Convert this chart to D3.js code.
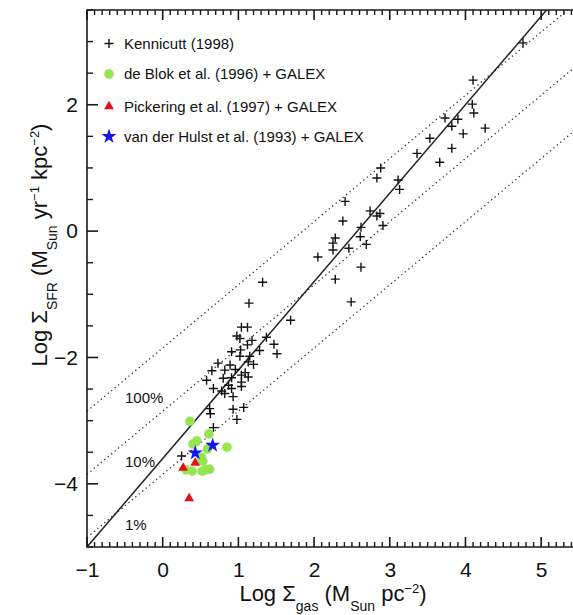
<!DOCTYPE html>
<html><head><meta charset="utf-8">
<script src="https://cdn.jsdelivr.net/npm/d3@7"></script>
<style>
body{margin:0;background:#fff}
text{font-family:"Liberation Sans",Arial,Helvetica,sans-serif;fill:#111}
</style>
</head><body>
<svg id="chart" width="573" height="615"></svg>
<script>
// ---- data ----
const kennX = [4.76,4.10,4.09,4.11,3.73,3.90,3.82,4.26,3.97,3.53,3.82,3.36,3.66,2.88,2.83,3.11,3.13,2.41,2.74,2.87,2.38,2.83,2.91,2.62,2.28,2.61,2.25,2.69,2.25,2.46,2.05,2.62,2.28,2.49,1.32,1.14,1.69,
  1.04,1.12,0.98,1.02,1.18,1.12,1.37,1.47,1.51,0.91,1.03,1.28,1.02,1.15,0.73,0.89,1.13,1.20,0.65,0.82,0.96,1.09,1.04,0.58,0.80,0.91,1.04,1.13,0.67,0.87,0.78,0.91,1.04,0.82,0.93,0.62,0.93,1.07,0.63,0.98,0.67,0.25];
const kennY = [2.98,2.39,2.01,1.87,1.79,1.77,1.66,1.63,1.54,1.47,1.31,1.23,1.09,1.00,0.84,0.81,0.66,0.47,0.32,0.28,0.16,0.24,0.09,0.06,-0.11,-0.09,-0.19,-0.21,-0.30,-0.27,-0.41,-0.57,-0.76,-1.12,-0.81,-1.14,-1.41,
  -1.52,-1.52,-1.66,-1.70,-1.73,-1.80,-1.68,-1.79,-1.94,-1.91,-1.88,-1.89,-1.98,-1.98,-2.09,-2.12,-2.07,-2.11,-2.21,-2.20,-2.19,-2.24,-2.28,-2.36,-2.33,-2.32,-2.39,-2.31,-2.49,-2.44,-2.53,-2.49,-2.46,-2.57,-2.62,-2.81,-2.82,-2.79,-2.89,-2.98,-3.11,-3.56];
const deblokX = [0.36,0.61,0.45,0.40,0.85,0.59,0.51,0.53,0.31,0.39,0.52,0.57,0.62];
const deblokY = [-3.01,-3.21,-3.32,-3.37,-3.42,-3.45,-3.58,-3.64,-3.78,-3.80,-3.80,-3.78,-3.77];
const pickX = [0.27,0.43,0.35];
const pickY = [-3.75,-3.67,-4.23];
const hulstX = [0.43,0.66];
const hulstY = [-3.51,-3.39];
const legendLabels = ["Kennicutt (1998)","de Blok et al. (1996) + GALEX","Pickering et al. (1997) + GALEX","van der Hulst et al. (1993) + GALEX"];
const effLabels = ["100%","10%","1%"];
const effOffsets = [-1.85,-2.85,-3.85];
const ksSlope = 1.4, ksIntercept = -3.6;
const xTickLabels = [-1,0,1,2,3,4,5];
const yTickLabels = [-4,-2,0,2];

// ---- layout ----
const svg = d3.select("#chart");
const x = d3.scaleLinear().domain([-1,5.5]).range([87,579]);
const y = d3.scaleLinear().domain([-5,3.5]).range([547,10]);

svg.append("defs").append("clipPath").attr("id","plotclip")
  .append("rect").attr("x",87).attr("y",10).attr("width",492).attr("height",537);

const plot = svg.append("g").attr("clip-path","url(#plotclip)");

// efficiency dotted lines
effOffsets.forEach(c=>{
  plot.append("line")
    .attr("x1",x(-1)).attr("y1",y(-1+c))
    .attr("x2",x(5.5)).attr("y2",y(5.5+c))
    .attr("stroke","#333").attr("stroke-width",1.3)
    .attr("stroke-dasharray","1.3,3.2");
});
// Kennicutt law
plot.append("line")
  .attr("x1",x(-1)).attr("y1",y(ksSlope*-1+ksIntercept))
  .attr("x2",x(5.5)).attr("y2",y(ksSlope*5.5+ksIntercept))
  .attr("stroke","#222").attr("stroke-width",1.5);

const crossPath = "M-4.5,0H4.5M0,-4.5V4.5";
const kenn = d3.range(kennX.length).map(i=>({x:kennX[i],y:kennY[i]}));
plot.selectAll(".kc").data(kenn).join("path")
  .attr("d",crossPath).attr("transform",d=>`translate(${x(d.x)},${y(d.y)})`)
  .attr("stroke","#111").attr("stroke-width",1.4).attr("fill","none");

const green = "#95E550", red = "#E3101A", blue = "#1414EE";
const db = d3.range(deblokX.length).map(i=>({x:deblokX[i],y:deblokY[i]}));
plot.selectAll(".db").data(db).join("circle")
  .attr("cx",d=>x(d.x)).attr("cy",d=>y(d.y)).attr("r",4.8).attr("fill",green);
const tri = d3.symbol().type(d3.symbolTriangle).size(42);
const pk = d3.range(pickX.length).map(i=>({x:pickX[i],y:pickY[i]}));
plot.selectAll(".pk").data(pk).join("path")
  .attr("d",tri).attr("transform",d=>`translate(${x(d.x)},${y(d.y)})`).attr("fill",red);
const star = d3.symbol().type(d3.symbolStar).size(70);
const hu = d3.range(hulstX.length).map(i=>({x:hulstX[i],y:hulstY[i]}));
plot.selectAll(".hu").data(hu).join("path")
  .attr("d",star).attr("transform",d=>`translate(${x(d.x)},${y(d.y)})`).attr("fill",blue);

// efficiency labels
const effY = [403,467,530];
effLabels.forEach((t,i)=>{
  svg.append("text").attr("x",125).attr("y",effY[i]).attr("font-size",15).text(t);
});

// ---- axes: frame + inward tick marks (filled rects placed by the scales) ----
const axColor = "#1a1a1a";
const xMinor = d3.range(-10,56).map(v=>v/10).filter(v=>Math.abs(v-Math.round(v))>1e-6);
const yMinor = d3.range(-10,8).map(v=>v/2).filter(v=>v%2!==0);
const fmt = d3.format("d");

const tg = svg.append("g").attr("fill",axColor);
xMinor.forEach(v=>{
  tg.append("rect").attr("x",x(v)-0.7).attr("y",542).attr("width",1.4).attr("height",5);
  tg.append("rect").attr("x",x(v)-0.7).attr("y",10).attr("width",1.4).attr("height",5);
});
xTickLabels.forEach(v=>{
  tg.append("rect").attr("x",x(v)-0.8).attr("y",537).attr("width",1.6).attr("height",10);
  tg.append("rect").attr("x",x(v)-0.8).attr("y",10).attr("width",1.6).attr("height",10);
});
yMinor.forEach(v=>{
  tg.append("rect").attr("x",87).attr("y",y(v)-0.7).attr("width",6).attr("height",1.4);
});
yTickLabels.forEach(v=>{
  tg.append("rect").attr("x",87).attr("y",y(v)-0.8).attr("width",11).attr("height",1.6);
});

svg.append("path").attr("d","M579,10H87V547H579").attr("fill","none")
  .attr("stroke",axColor).attr("stroke-width",1.6);

// tick labels via d3 axes
svg.append("g").attr("transform","translate(0,547)")
  .call(d3.axisBottom(x).tickValues(xTickLabels).tickSize(0).tickPadding(15).tickFormat(fmt))
  .call(g=>g.select(".domain").remove())
  .call(g=>g.selectAll("text").attr("font-size",21).attr("fill","#111").attr("font-family","Liberation Sans, Arial, sans-serif"));
svg.append("g").attr("transform","translate(87,0)")
  .call(d3.axisLeft(y).tickValues(yTickLabels).tickSize(0).tickPadding(9).tickFormat(fmt))
  .call(g=>g.select(".domain").remove())
  .call(g=>g.selectAll("text").attr("font-size",21).attr("fill","#111").attr("font-family","Liberation Sans, Arial, sans-serif"));

// ---- axis titles ----
const xt = svg.append("text").attr("x",333).attr("y",601).attr("text-anchor","middle").attr("font-size",22);
xt.append("tspan").text("Log Σ");
xt.append("tspan").attr("dy",10).attr("font-size",14).text("gas");
xt.append("tspan").attr("dy",-10).text(" (M");
xt.append("tspan").attr("dy",10).attr("font-size",14).text("Sun");
xt.append("tspan").attr("dy",-10).text(" pc");
xt.append("tspan").attr("dy",-8).attr("font-size",13).text("−2");
xt.append("tspan").attr("dy",8).text(")");

const yt = svg.append("text").attr("transform","translate(47,245) rotate(-90)").attr("text-anchor","middle").attr("font-size",22);
yt.append("tspan").text("Log Σ");
yt.append("tspan").attr("dy",10).attr("font-size",14).text("SFR");
yt.append("tspan").attr("dy",-10).text(" (M");
yt.append("tspan").attr("dy",10).attr("font-size",14).text("Sun");
yt.append("tspan").attr("dy",-10).text(" yr");
yt.append("tspan").attr("dy",-8).attr("font-size",13).text("−1");
yt.append("tspan").attr("dy",8).text(" kpc");
yt.append("tspan").attr("dy",-8).attr("font-size",13).text("−2");
yt.append("tspan").attr("dy",8).text(")");

// ---- legend ----
const legY = [43.5,74,106.5,136.5];
const lg = svg.append("g");
legendLabels.forEach((t,i)=>{
  lg.append("text").attr("x",124).attr("y",legY[i]+5.3).attr("font-size",15).text(t);
});
lg.append("path").attr("d",crossPath).attr("transform",`translate(109,${legY[0]})`)
  .attr("stroke","#111").attr("stroke-width",1.4);
lg.append("circle").attr("cx",109).attr("cy",legY[1]).attr("r",4.8).attr("fill",green);
lg.append("path").attr("d",tri).attr("transform",`translate(109,${legY[2]})`).attr("fill",red);
lg.append("path").attr("d",star).attr("transform",`translate(109,${legY[3]})`).attr("fill",blue);
</script>
</body></html>
